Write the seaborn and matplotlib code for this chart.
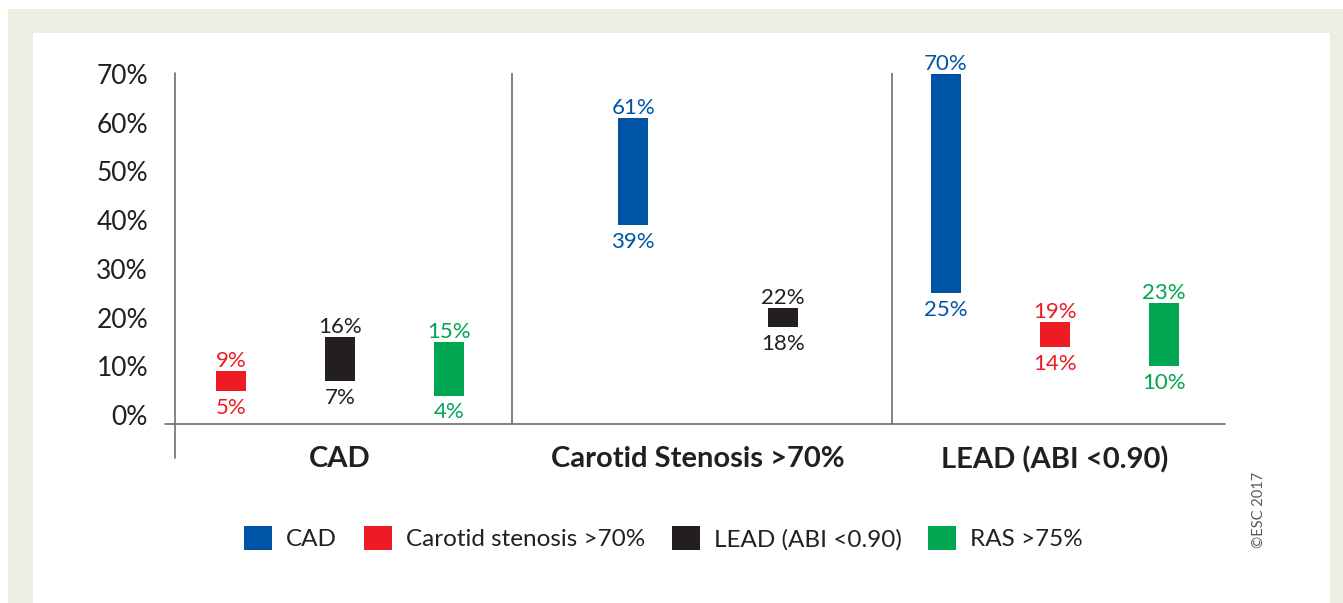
import numpy as np
import pandas as pd
import seaborn as sns
import matplotlib.pyplot as plt
from matplotlib.patches import Patch, Rectangle

# donnees (plages en %)
groups = ["CAD", "Carotid Stenosis >70%", "LEAD (ABI <0.90)"]
series = ["CAD", "Carotid stenosis >70%", "LEAD (ABI <0.90)", "RAS >75%"]

cad_series = ["Carotid stenosis >70%", "LEAD (ABI <0.90)", "RAS >75%"]
cad_low = [5, 7, 4]
cad_high = [9, 16, 15]

carotid_series = ["CAD", "LEAD (ABI <0.90)"]
carotid_low = [39, 18]
carotid_high = [61, 22]

lead_series = ["CAD", "Carotid stenosis >70%", "RAS >75%"]
lead_low = [25, 14, 10]
lead_high = [70, 19, 23]

yticks = [0, 10, 20, 30, 40, 50, 60, 70]

palette = {
    "CAD": "#0054A6",
    "Carotid stenosis >70%": "#ED1C24",
    "LEAD (ABI <0.90)": "#231F20",
    "RAS >75%": "#00A651",
}

rows = []
for g, (ser, lo, hi) in enumerate([(cad_series, cad_low, cad_high),
                                    (carotid_series, carotid_low, carotid_high),
                                    (lead_series, lead_low, lead_high)]):
    for i, s in enumerate(ser):
        rows.append({"group": g, "slot": i, "n": len(ser), "series": s, "low": lo[i], "high": hi[i]})
df = pd.DataFrame(rows)

# mise en page
W, H = 1343, 603
step = {3: 0.305, 2: 0.42}
nudge = [0.0, 0.03, 0.0]
bar_w = 0.084
df["x"] = df["group"] + df["group"].map(lambda g: nudge[g]) + \
    (df["slot"] - (df["n"] - 1) / 2) * df["n"].map(step)

sns.set_theme(style="white")
plt.rcParams["font.family"] = ["Lato", "DejaVu Sans"]
text_col = "#231F20"
line_col = "#6D6E71"
beige = "#EDEDE1"

fig = plt.figure(figsize=(W / 100, H / 100), dpi=100, facecolor="white")
fig.add_artist(Rectangle((8 / W, 0), 1 - 8 / W, 1 - 9 / H, transform=fig.transFigure,
                         facecolor=beige, edgecolor="none", zorder=-10))
fig.add_artist(Rectangle((33 / W, 0), (1330 - 33) / W, 1 - 33 / H, transform=fig.transFigure,
                         facecolor="white", edgecolor="none", zorder=-9))

ax = fig.add_axes([175 / W, (H - 424) / H, 1050 / W, 351 / H])
ax.patch.set_visible(False)
for sp in ax.spines.values():
    sp.set_visible(False)

xlim = (-0.4615, 2.4755)
ylim = (-9 / 4.871, (415 - 73) / 4.871)
ax.set_xlim(*xlim)
ax.set_ylim(*ylim)

for _, r in df.iterrows():
    c = palette[r["series"]]
    ax.bar(r["x"], r["high"] - r["low"], bottom=r["low"], width=bar_w, color=c, linewidth=0)
    ax.annotate(f"{r['high']}%", (r["x"], r["high"]), xytext=(0, 3), textcoords="offset points",
                ha="center", va="baseline", color=c, fontsize=16)
    ax.annotate(f"{r['low']}%", (r["x"], r["low"]), xytext=(0, -5), textcoords="offset points",
                ha="center", va="top", color=c, fontsize=16)

# axes et separateurs
ax.axvline(xlim[0], ymin=-(458 - 424) / 351, ymax=1, color=line_col, lw=1.2, clip_on=False)
ax.axhline(ylim[0], xmin=-10 / 1050, xmax=1, color=line_col, lw=1.2, clip_on=False)
for d in [0.4811, 1.544]:
    ax.axvline(d, ymin=0, ymax=1, color=line_col, lw=1.2)

ax.set_yticks(yticks)
ax.set_yticklabels([f"{v}%" for v in yticks], fontsize=19, color=text_col)
ax.set_xticks(range(len(groups)))
ax.set_xticklabels(groups, fontsize=21, fontweight="bold", color=text_col)
ax.tick_params(axis="y", length=0, pad=19.4)
ax.tick_params(axis="x", length=0, pad=16)

handles = [Patch(facecolor=palette[s], edgecolor="none") for s in series]
fig.legend(handles, series, loc="center", bbox_to_anchor=(663.5 / W, 1 - 538 / H), ncol=4,
           frameon=False, fontsize=17.5, labelcolor=text_col, handlelength=1.15,
           handleheight=1.2, handletextpad=0.58, columnspacing=1.1)

fig.text(1259 / W, 1 - 510 / H, "©ESC 2017", rotation=90, ha="center", va="center",
         fontsize=10.5, color="#58595B")

fig.savefig("out.png", dpi=100)
